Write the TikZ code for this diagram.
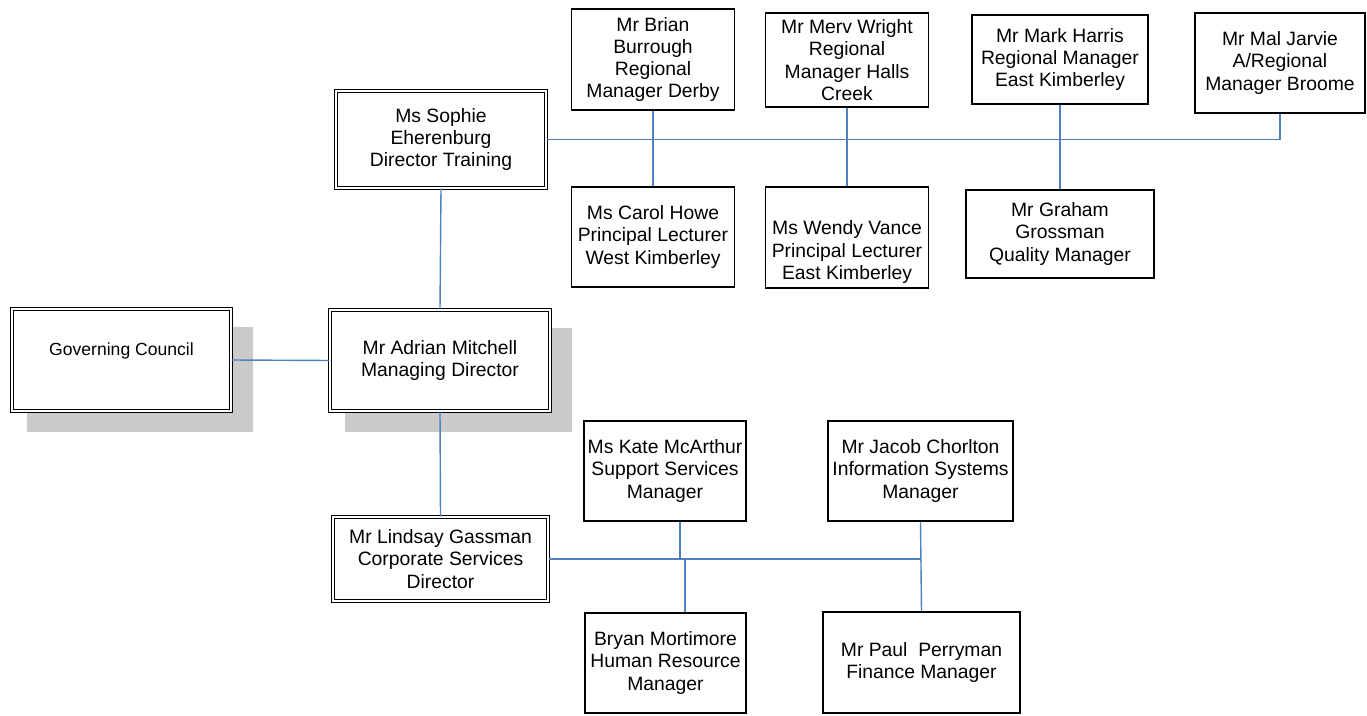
\documentclass[tikz,border=0pt]{standalone}
\usepackage{fontspec}
\setmainfont{Liberation Sans}
\usetikzlibrary{positioning,shadows}
\definecolor{linkblue}{HTML}{4F81BD}
\definecolor{shadegray}{HTML}{CBCBCB}

\begin{document}
\begin{tikzpicture}[x=0.02cm,y=-0.02cm,
	staff/.style={draw=black,line width=0.6pt,fill=white,align=center,inner sep=1pt,font=\fontsize{11}{12.7}\selectfont},
	head/.style={staff,double=white,double distance=1.2pt},
	shade/.style={drop shadow={shadow xshift=0.36cm,shadow yshift=-0.38cm,shadow scale=1.03,fill=shadegray,opacity=1}},
	link/.style={draw=linkblue,line width=0.8pt}]
		\useasboundingbox (0,0) rectangle (1367,716);
		% training branch
		\node[staff,minimum width=3.26cm,minimum height=2.02cm] (brian) at (653,59.5) {Mr Brian\\Burrough\\Regional\\Manager Derby};
		\node[staff,minimum width=3.26cm,minimum height=1.88cm] (merv) at (847,60) {Mr Merv Wright\\Regional\\Manager Halls\\Creek};
		\node[staff,minimum width=3.52cm,minimum height=1.78cm] (mark) at (1060,59.5) {Mr Mark Harris\\Regional Manager\\East Kimberley};
		\node[staff,minimum width=3.40cm,minimum height=2.0cm] (mal) at (1280,63) {Mr Mal Jarvie\\A/Regional\\Manager Broome};
		\node[staff,minimum width=3.26cm,minimum height=2.0cm] (carol) at (653,237) {Ms Carol Howe\\Principal Lecturer\\West Kimberley};
		\node[staff,minimum width=3.26cm,minimum height=2.02cm] (wendy) at (847,237.5) {\mbox{}\\[12pt]Ms Wendy Vance\\Principal Lecturer\\East Kimberley};
		\node[staff,minimum width=3.76cm,minimum height=1.76cm] (graham) at (1060,234) {Mr Graham\\Grossman\\Quality Manager};
		\node[head,minimum width=4.20cm,minimum height=1.94cm] (sophie) at (441,139.5) {Ms Sophie\\Eherenburg\\Director Training};
		% head office
		\node[head,shade,minimum width=4.38cm,minimum height=2.04cm,font=\fontsize{10}{12.7}\selectfont] (council) at (121.5,360) {Governing Council\\\mbox{}};
		\node[head,shade,minimum width=4.40cm,minimum height=2.02cm] (adrian) at (440,360.5) {Mr Adrian Mitchell\\Managing Director};
		% corporate branch
		\node[head,minimum width=4.30cm,minimum height=1.68cm] (lindsay) at (440.5,559) {Mr Lindsay Gassman\\Corporate Services\\Director};
		\node[staff,minimum width=3.24cm,minimum height=2.0cm] (kate) at (665,471) {Ms Kate McArthur\\Support Services\\Manager};
		\node[staff,minimum width=3.70cm,minimum height=2.0cm] (jacob) at (920.5,471) {Mr Jacob Chorlton\\Information Systems\\Manager};
		\node[staff,minimum width=3.22cm,minimum height=2.0cm] (bryan) at (665.5,663) {Bryan Mortimore\\Human Resource\\Manager};
		\node[staff,minimum width=3.94cm,minimum height=2.02cm] (paul) at (921.5,662.5) {Mr Paul\ \ Perryman\\Finance Manager};
		% connectors
		\draw[link] (sophie.east) -| (mal.south);
		\draw[link] (brian.south) -- (carol.north);
		\draw[link] (merv.south) -- (wendy.north);
		\draw[link] (mark.south) -- (graham.north);
		\draw[link] (sophie.south) -- (adrian.north);
		\draw[link] (council.east) -- (adrian.west);
		\draw[link] (adrian.south) -- (lindsay.north);
		\draw[link] (lindsay.east) -| (jacob.south);
		\draw[link] (jacob.south) -- (paul.north);
		\coordinate (katedrop) at (680,559);
		\coordinate (bryandrop) at (685,559);
		\draw[link] (kate.south -| katedrop) -- (katedrop);
		\draw[link] (bryandrop) -- (bryandrop |- bryan.north);
	\end{tikzpicture}
\end{document}
